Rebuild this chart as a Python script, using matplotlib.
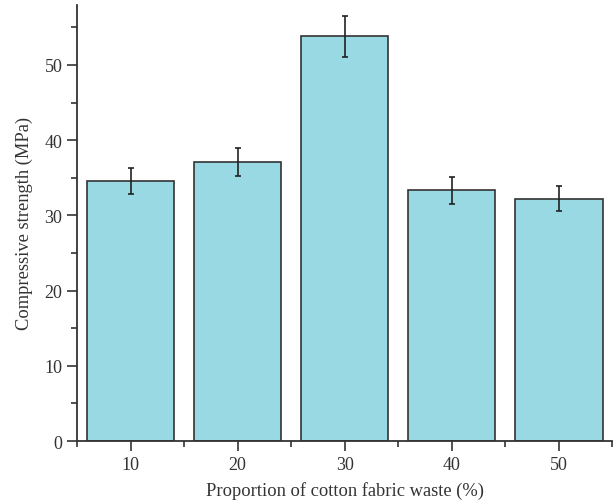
import matplotlib
matplotlib.use("Agg")
import matplotlib.pyplot as plt
from matplotlib.ticker import MultipleLocator

categories = [10, 20, 30, 40, 50]
strength = [34.55, 37.13, 53.82, 33.31, 32.24]
errors = [1.7, 1.85, 2.7, 1.75, 1.6]

plt.rcParams['font.family'] = ['Liberation Serif', 'DejaVu Serif']

fig = plt.figure(figsize=(6.13, 5.02), dpi=100)
ax = fig.add_axes([0.1256, 0.1195, 0.873, 0.869])

ax.bar(categories, strength, width=8.2, color='#99d9e4', edgecolor='#333333', linewidth=1.2,
       yerr=errors, error_kw=dict(ecolor='#222222', elinewidth=1.2, capsize=2.5, capthick=1.2))

ax.set_xlim(5, 55)
ax.set_ylim(0, 58)
ax.set_xticks(categories)
ax.xaxis.set_minor_locator(MultipleLocator(5))
ax.yaxis.set_major_locator(MultipleLocator(10))
ax.yaxis.set_minor_locator(MultipleLocator(5))

for s in ['top', 'right']:
    ax.spines[s].set_visible(False)
for s in ['left', 'bottom']:
    ax.spines[s].set_linewidth(1.3)
    ax.spines[s].set_color('#333333')

ax.tick_params(which='major', direction='out', length=7, width=1.2, color='#333333',
               labelsize=13, labelcolor='#333333')
ax.tick_params(which='minor', direction='out', length=4, width=1.2, color='#333333')

ax.set_xlabel('Proportion of cotton fabric waste (%)', fontsize=13.3, color='#333333', labelpad=6)
ax.set_ylabel('Compressive strength (MPa)', fontsize=13.3, color='#333333', labelpad=8)

fig.savefig('out.png', dpi=100)
